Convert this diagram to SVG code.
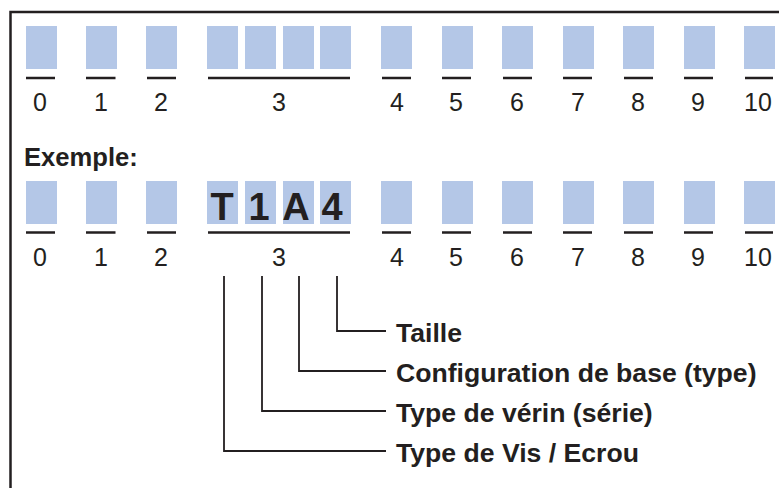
<svg xmlns="http://www.w3.org/2000/svg" width="779" height="488" viewBox="0 0 779 488">
<style>
.box{fill:#B4C7E7}
.ul{stroke:#231F20;stroke-width:2.5;fill:none}
.num{font-family:"Liberation Sans",Arial,sans-serif;font-size:25px;fill:#231F20;text-anchor:middle}
.big{font-family:"Liberation Sans",Arial,sans-serif;font-size:38px;font-weight:bold;fill:#231F20;text-anchor:middle}
.lbl{font-family:"Liberation Sans",Arial,sans-serif;font-size:26.6px;font-weight:bold;fill:#231F20}
.con{stroke:#231F20;stroke-width:1.8;fill:none}
</style>
<rect width="779" height="488" fill="#ffffff"/>
<path d="M10.5,488 V12 H779" fill="none" stroke="#231F20" stroke-width="2.5"/>
<g id="row1">
<rect class="box" x="26" y="26" width="31" height="43"/>
<rect class="box" x="86" y="26" width="31" height="43"/>
<rect class="box" x="146" y="26" width="31" height="43"/>
<rect class="box" x="207" y="26" width="31" height="43"/>
<rect class="box" x="245" y="26" width="31" height="43"/>
<rect class="box" x="283" y="26" width="31" height="43"/>
<rect class="box" x="320" y="26" width="31" height="43"/>
<rect class="box" x="381" y="26" width="31" height="43"/>
<rect class="box" x="442" y="26" width="31" height="43"/>
<rect class="box" x="502" y="26" width="31" height="43"/>
<rect class="box" x="563" y="26" width="31" height="43"/>
<rect class="box" x="623" y="26" width="31" height="43"/>
<rect class="box" x="684" y="26" width="31" height="43"/>
<rect class="box" x="744" y="26" width="31" height="43"/>
<path class="ul" d="M26,78H55 M86,78H115.5 M147,78H176 M208,78H350 M382,78H411 M442,78H471 M503,78H532 M563,78H592 M624,78H653 M684,78H713 M745,78H773"/>
<text class="num" x="40" y="111">0</text>
<text class="num" x="101" y="111">1</text>
<text class="num" x="161" y="111">2</text>
<text class="num" x="279" y="111">3</text>
<text class="num" x="397" y="111">4</text>
<text class="num" x="456" y="111">5</text>
<text class="num" x="517" y="111">6</text>
<text class="num" x="578" y="111">7</text>
<text class="num" x="638" y="111">8</text>
<text class="num" x="698" y="111">9</text>
<text class="num" x="758" y="111">10</text>
</g>
<g id="example-title">
<text class="lbl" x="24" y="166" style="font-size:25.6px">Exemple:</text>
</g>
<g id="row2">
<rect class="box" x="26" y="181" width="31" height="43"/>
<rect class="box" x="86" y="181" width="31" height="43"/>
<rect class="box" x="146" y="181" width="31" height="43"/>
<rect class="box" x="207" y="181" width="31" height="43"/>
<rect class="box" x="245" y="181" width="31" height="43"/>
<rect class="box" x="283" y="181" width="31" height="43"/>
<rect class="box" x="320" y="181" width="31" height="43"/>
<rect class="box" x="381" y="181" width="31" height="43"/>
<rect class="box" x="442" y="181" width="31" height="43"/>
<rect class="box" x="502" y="181" width="31" height="43"/>
<rect class="box" x="563" y="181" width="31" height="43"/>
<rect class="box" x="623" y="181" width="31" height="43"/>
<rect class="box" x="684" y="181" width="31" height="43"/>
<rect class="box" x="744" y="181" width="31" height="43"/>
<text class="big" x="222" y="220">T</text>
<text class="big" x="259" y="220">1</text>
<text class="big" x="296" y="220">A</text>
<text class="big" x="332" y="220">4</text>
<path class="ul" d="M26,232.5H55 M86,232.5H115.5 M147,232.5H176 M208,232.5H350 M382,232.5H411 M442,232.5H471 M503,232.5H532 M563,232.5H592 M624,232.5H653 M684,232.5H713 M745,232.5H773"/>
<text class="num" x="40" y="266">0</text>
<text class="num" x="101" y="266">1</text>
<text class="num" x="161" y="266">2</text>
<text class="num" x="279" y="266">3</text>
<text class="num" x="397" y="266">4</text>
<text class="num" x="456" y="266">5</text>
<text class="num" x="517" y="266">6</text>
<text class="num" x="578" y="266">7</text>
<text class="num" x="638" y="266">8</text>
<text class="num" x="698" y="266">9</text>
<text class="num" x="758" y="266">10</text>
</g>
<g id="connectors">
<path class="con" d="M337,276V331H386"/>
<path class="con" d="M299,276V371H386"/>
<path class="con" d="M262,276V411H386"/>
<path class="con" d="M224,276V451H386"/>
</g>
<g id="label-taille"><text class="lbl" x="396" y="342">Taille</text></g>
<g id="label-config"><text class="lbl" x="396" y="382">Configuration de base (type)</text></g>
<g id="label-verin"><text class="lbl" x="396" y="422">Type de vérin (série)</text></g>
<g id="label-vis"><text class="lbl" x="396" y="462">Type de Vis / Ecrou</text></g>
</svg>
